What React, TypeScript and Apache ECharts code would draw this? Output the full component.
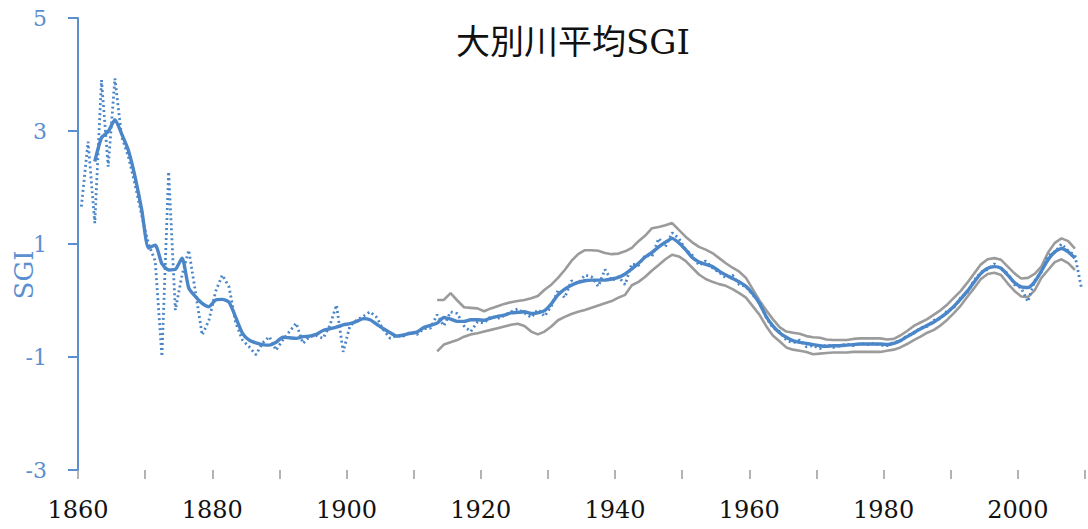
import React, { useEffect, useRef } from "react";
import * as echarts from "echarts";

// Annual SGI, 1860–2009
const ANNUAL_START = 1860;
const annualSGI = [
  1.66, 2.81, 1.37, 3.9, 2.37, 3.93, 2.9, 2.55, 2.05, 1.5,
  1.0, 0.7, -0.99, 2.28, -0.17, 0.45, 0.89, 0.15, -0.61, -0.35,
  0.16, 0.45, 0.24, -0.4, -0.7, -0.82, -0.96, -0.75, -0.64, -0.88,
  -0.7, -0.55, -0.4, -0.76, -0.64, -0.62, -0.67, -0.45, -0.08, -0.91,
  -0.45, -0.35, -0.28, -0.2, -0.3, -0.52, -0.67, -0.62, -0.63, -0.56,
  -0.6, -0.5, -0.49, -0.25, -0.45, -0.2, -0.23, -0.45, -0.55, -0.38,
  -0.4, -0.28, -0.32, -0.27, -0.2, -0.15, -0.22, -0.3, -0.16, -0.28,
  -0.1, 0.18, 0.05, 0.35, 0.3, 0.45, 0.42, 0.25, 0.55, 0.35,
  0.42, 0.28, 0.65, 0.62, 0.8, 0.78, 1.1, 0.95, 1.2, 1.1,
  0.9, 0.8, 0.62, 0.7, 0.58, 0.5, 0.4, 0.45, 0.28, 0.25,
  0.1, -0.02, -0.3, -0.48, -0.55, -0.7, -0.75, -0.7, -0.82, -0.8,
  -0.85, -0.78, -0.83, -0.8, -0.77, -0.8, -0.76, -0.78, -0.76, -0.79,
  -0.8, -0.74, -0.72, -0.62, -0.58, -0.48, -0.46, -0.35, -0.32, -0.18,
  -0.12, 0.05, 0.15, 0.36, 0.5, 0.55, 0.65, 0.55, 0.48, 0.28,
  0.22, -0.02, 0.35, 0.5, 0.8, 0.85, 1.0, 0.88, 0.8, 0.2,
];

// Moving average, 1862–2008
const MA_START = 1862;
const movingAvg = [
  2.46, 2.88, 2.99, 3.2, 2.95, 2.66, 2.19, 1.6,
  0.93, 0.98, 0.65, 0.54, 0.55, 0.75, 0.22, 0.07, -0.05, -0.11,
  0.01, 0.02, -0.03, -0.3, -0.58, -0.7, -0.75, -0.78, -0.79, -0.74,
  -0.65, -0.66, -0.67, -0.64, -0.63, -0.6, -0.53, -0.5, -0.47, -0.43,
  -0.41, -0.37, -0.32, -0.34, -0.42, -0.5, -0.57, -0.63, -0.61, -0.58,
  -0.56, -0.48, -0.44, -0.4, -0.3, -0.33, -0.37, -0.37, -0.34, -0.34,
  -0.35, -0.31, -0.28, -0.26, -0.22, -0.21, -0.2, -0.23, -0.22, -0.18,
  -0.06, 0.1, 0.2, 0.27, 0.32, 0.35, 0.36, 0.36, 0.36, 0.38,
  0.41, 0.47, 0.56, 0.66, 0.77, 0.85, 0.95, 1.03, 1.1, 1.02,
  0.9, 0.76, 0.68, 0.64, 0.6, 0.52, 0.45, 0.39, 0.33, 0.25,
  0.12, -0.05, -0.28, -0.45, -0.57, -0.65, -0.71, -0.74, -0.76, -0.78,
  -0.8, -0.81, -0.8, -0.8, -0.79, -0.78, -0.77, -0.77, -0.77, -0.77,
  -0.78, -0.76, -0.71, -0.64, -0.57, -0.5, -0.44, -0.38, -0.3, -0.21,
  -0.1, 0.03, 0.17, 0.33, 0.48, 0.57, 0.6, 0.57, 0.45, 0.32,
  0.24, 0.23, 0.33, 0.52, 0.72, 0.86, 0.92, 0.86, 0.75,
];

// Upper and lower bounds, 1913–2008
const BAND_START = 1913;
const bandUpper = [
  0.01, 0.01, 0.13, 0.0, -0.12, -0.13, -0.14,
  -0.19, -0.14, -0.1, -0.06, -0.03, -0.01, 0.01, 0.04, 0.08, 0.19,
  0.28, 0.4, 0.54, 0.7, 0.82, 0.89, 0.89, 0.88, 0.84, 0.82,
  0.83, 0.87, 0.93, 1.05, 1.15, 1.28, 1.3, 1.33, 1.37, 1.25,
  1.13, 1.03, 0.95, 0.9, 0.84, 0.75, 0.66, 0.58, 0.51, 0.4,
  0.2, 0.0, -0.17, -0.33, -0.47, -0.55, -0.57, -0.59, -0.63, -0.65,
  -0.66, -0.69, -0.7, -0.7, -0.7, -0.68, -0.67, -0.67, -0.67, -0.67,
  -0.69, -0.68, -0.62, -0.54, -0.45, -0.39, -0.33, -0.25, -0.17, -0.07,
  0.05, 0.17, 0.32, 0.48, 0.64, 0.73, 0.75, 0.72, 0.6, 0.48,
  0.39, 0.4, 0.47, 0.6, 0.85, 1.02, 1.1, 1.05, 0.92,
];
const bandLower = [
  -0.9, -0.78, -0.74, -0.7, -0.64, -0.6, -0.58,
  -0.55, -0.52, -0.49, -0.46, -0.43, -0.41, -0.45, -0.55, -0.6, -0.55,
  -0.46, -0.35, -0.29, -0.24, -0.2, -0.17, -0.13, -0.09, -0.05, -0.01,
  0.05, 0.1, 0.27, 0.33, 0.42, 0.53, 0.63, 0.73, 0.81, 0.78,
  0.7, 0.58, 0.46, 0.38, 0.33, 0.29, 0.26, 0.2, 0.13, 0.05,
  -0.1, -0.25, -0.45, -0.62, -0.72, -0.83, -0.87, -0.89, -0.91, -0.95,
  -0.94, -0.93, -0.92, -0.92, -0.92, -0.91, -0.91, -0.91, -0.91, -0.91,
  -0.89, -0.87, -0.83, -0.77, -0.7, -0.64, -0.57, -0.52, -0.44, -0.34,
  -0.22, -0.09, 0.07, 0.22, 0.38, 0.47, 0.49, 0.45, 0.3, 0.17,
  0.07, 0.06, 0.18, 0.4, 0.54, 0.68, 0.73, 0.66, 0.54,
];

const TITLE = "大別川平均SGI";
const Y_NAME = "SGI";
const Y_MIN = -3;
const Y_MAX = 5;
const Y_STEP = 2;
const X_MIN = 1860;
const X_MAX = 2010;
const X_TICK_STEP = 10;
const X_LABEL_STEP = 20;

const BLUE = "#4a86c8";
const AXIS_BLUE = "#5b8fd0";
const GREY = "#9b9b9b";
const SERIF = "'DejaVu Serif', 'Liberation Serif', 'Noto Sans CJK JP', serif";

// each year's value sits in the middle of its one-year slot
const toPoints = (start: number, values: number[]) =>
  values.map((v, i) => [start + i + 0.5, v]);

export default function App() {
  const ref = useRef<HTMLDivElement>(null);

  useEffect(() => {
    if (!ref.current) return;
    const chart = echarts.init(ref.current, undefined, { renderer: "svg" });
    chart.setOption({
      animation: false,
      backgroundColor: "#ffffff",
      title: {
        text: TITLE,
        left: 568,
        top: 20,
        textAlign: "center",
        textStyle: {
          fontFamily: SERIF,
          fontSize: 34,
          fontWeight: "normal",
          color: "#111111",
        },
      },
      grid: { left: 78, right: 2, top: 18, bottom: 59, containLabel: false },
      xAxis: {
        type: "value",
        min: X_MIN,
        max: X_MAX,
        interval: X_TICK_STEP,
        axisLine: { show: false, onZero: false },
        axisTick: {
          show: true,
          length: 9,
          lineStyle: { color: "#9a9a9a", width: 1.5 },
        },
        splitLine: { show: false },
        axisLabel: {
          margin: 28,
          fontFamily: SERIF,
          fontSize: 24,
          color: "#111111",
          formatter: (v: number) => (v % X_LABEL_STEP === 0 ? String(v) : ""),
        },
      },
      yAxis: {
        type: "value",
        min: Y_MIN,
        max: Y_MAX,
        interval: Y_STEP,
        axisLine: { show: true, onZero: false, lineStyle: { color: AXIS_BLUE, width: 2 } },
        axisTick: {
          show: true,
          length: 10,
          lineStyle: { color: AXIS_BLUE, width: 2 },
        },
        splitLine: { show: false },
        axisLabel: {
          margin: 31,
          fontFamily: SERIF,
          fontSize: 22,
          color: AXIS_BLUE,
        },
      },
      graphic: [
        {
          type: "text",
          x: 24,
          y: 275,
          rotation: Math.PI / 2,
          style: {
            text: Y_NAME,
            fontFamily: SERIF,
            fontSize: 26,
            fill: AXIS_BLUE,
            textAlign: "center",
            textVerticalAlign: "middle",
          },
        },
      ],
      series: [
        {
          name: "upper",
          type: "line",
          data: toPoints(BAND_START, bandUpper),
          showSymbol: false,
          lineStyle: { color: GREY, width: 2.6 },
          z: 1,
        },
        {
          name: "lower",
          type: "line",
          data: toPoints(BAND_START, bandLower),
          showSymbol: false,
          lineStyle: { color: GREY, width: 2.6 },
          z: 1,
        },
        {
          name: "annual",
          type: "line",
          data: toPoints(ANNUAL_START, annualSGI),
          showSymbol: false,
          lineStyle: { color: BLUE, width: 2.8, type: [2, 3] },
          z: 2,
        },
        {
          name: "moving average",
          type: "line",
          data: toPoints(MA_START, movingAvg),
          showSymbol: false,
          smooth: 0.2,
          lineStyle: { color: BLUE, width: 3.4 },
          z: 3,
        },
      ],
    });
    return () => chart.dispose();
  }, []);

  return (
    <div
      ref={ref}
      style={{ position: "fixed", left: 0, top: 0, width: 1088, height: 529 }}
    />
  );
}
